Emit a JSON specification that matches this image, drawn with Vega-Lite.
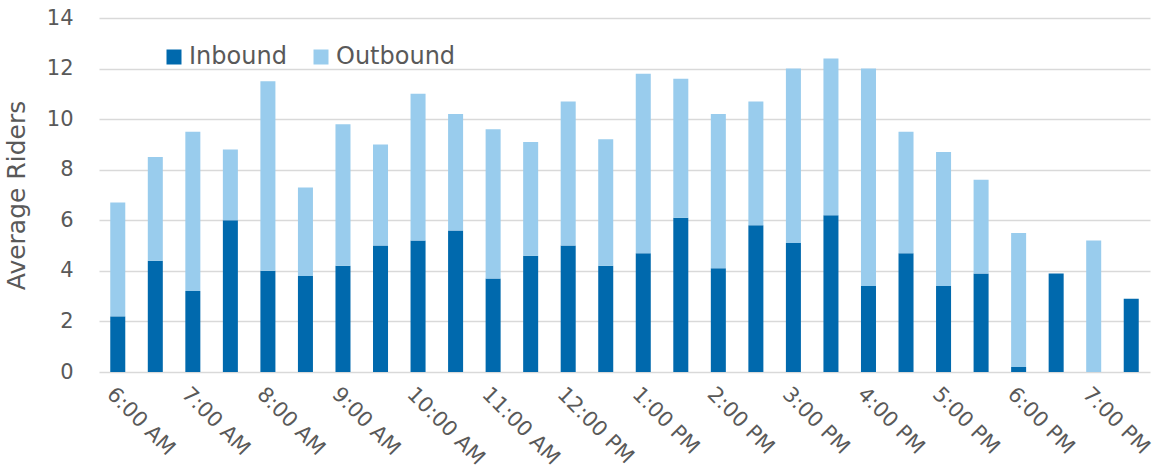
{
  "$schema": "https://vega.github.io/schema/vega-lite/v6.json",
  "width": 1051,
  "height": 354,
  "autosize": {"type": "none"},
  "padding": {"left": 99, "top": 18, "right": 12, "bottom": 100},
  "background": "white",
  "config": {
    "font": "DejaVu Sans",
    "view": {"stroke": null},
    "axis": {"labelColor": "#595959", "titleColor": "#595959", "labelFont": "DejaVu Sans", "titleFont": "DejaVu Sans"}
  },
  "data": {
    "values": [
      {"time": "6:00 AM", "direction": "Inbound", "riders": 2.2},
      {"time": "6:00 AM", "direction": "Outbound", "riders": 4.5},
      {"time": "6:30 AM", "direction": "Inbound", "riders": 4.4},
      {"time": "6:30 AM", "direction": "Outbound", "riders": 4.1},
      {"time": "7:00 AM", "direction": "Inbound", "riders": 3.2},
      {"time": "7:00 AM", "direction": "Outbound", "riders": 6.3},
      {"time": "7:30 AM", "direction": "Inbound", "riders": 6.0},
      {"time": "7:30 AM", "direction": "Outbound", "riders": 2.8},
      {"time": "8:00 AM", "direction": "Inbound", "riders": 4.0},
      {"time": "8:00 AM", "direction": "Outbound", "riders": 7.5},
      {"time": "8:30 AM", "direction": "Inbound", "riders": 3.8},
      {"time": "8:30 AM", "direction": "Outbound", "riders": 3.5},
      {"time": "9:00 AM", "direction": "Inbound", "riders": 4.2},
      {"time": "9:00 AM", "direction": "Outbound", "riders": 5.6},
      {"time": "9:30 AM", "direction": "Inbound", "riders": 5.0},
      {"time": "9:30 AM", "direction": "Outbound", "riders": 4.0},
      {"time": "10:00 AM", "direction": "Inbound", "riders": 5.2},
      {"time": "10:00 AM", "direction": "Outbound", "riders": 5.8},
      {"time": "10:30 AM", "direction": "Inbound", "riders": 5.6},
      {"time": "10:30 AM", "direction": "Outbound", "riders": 4.6},
      {"time": "11:00 AM", "direction": "Inbound", "riders": 3.7},
      {"time": "11:00 AM", "direction": "Outbound", "riders": 5.9},
      {"time": "11:30 AM", "direction": "Inbound", "riders": 4.6},
      {"time": "11:30 AM", "direction": "Outbound", "riders": 4.5},
      {"time": "12:00 PM", "direction": "Inbound", "riders": 5.0},
      {"time": "12:00 PM", "direction": "Outbound", "riders": 5.7},
      {"time": "12:30 PM", "direction": "Inbound", "riders": 4.2},
      {"time": "12:30 PM", "direction": "Outbound", "riders": 5.0},
      {"time": "1:00 PM", "direction": "Inbound", "riders": 4.7},
      {"time": "1:00 PM", "direction": "Outbound", "riders": 7.1},
      {"time": "1:30 PM", "direction": "Inbound", "riders": 6.1},
      {"time": "1:30 PM", "direction": "Outbound", "riders": 5.5},
      {"time": "2:00 PM", "direction": "Inbound", "riders": 4.1},
      {"time": "2:00 PM", "direction": "Outbound", "riders": 6.1},
      {"time": "2:30 PM", "direction": "Inbound", "riders": 5.8},
      {"time": "2:30 PM", "direction": "Outbound", "riders": 4.9},
      {"time": "3:00 PM", "direction": "Inbound", "riders": 5.1},
      {"time": "3:00 PM", "direction": "Outbound", "riders": 6.9},
      {"time": "3:30 PM", "direction": "Inbound", "riders": 6.2},
      {"time": "3:30 PM", "direction": "Outbound", "riders": 6.2},
      {"time": "4:00 PM", "direction": "Inbound", "riders": 3.4},
      {"time": "4:00 PM", "direction": "Outbound", "riders": 8.6},
      {"time": "4:30 PM", "direction": "Inbound", "riders": 4.7},
      {"time": "4:30 PM", "direction": "Outbound", "riders": 4.8},
      {"time": "5:00 PM", "direction": "Inbound", "riders": 3.4},
      {"time": "5:00 PM", "direction": "Outbound", "riders": 5.3},
      {"time": "5:30 PM", "direction": "Inbound", "riders": 3.9},
      {"time": "5:30 PM", "direction": "Outbound", "riders": 3.7},
      {"time": "6:00 PM", "direction": "Inbound", "riders": 0.2},
      {"time": "6:00 PM", "direction": "Outbound", "riders": 5.3},
      {"time": "6:30 PM", "direction": "Inbound", "riders": 3.9},
      {"time": "6:30 PM", "direction": "Outbound", "riders": 0},
      {"time": "7:00 PM", "direction": "Inbound", "riders": 0},
      {"time": "7:00 PM", "direction": "Outbound", "riders": 5.2},
      {"time": "7:30 PM", "direction": "Inbound", "riders": 2.9},
      {"time": "7:30 PM", "direction": "Outbound", "riders": 0}
    ]
  },
  "mark": {"type": "bar"},
  "encoding": {
    "x": {
      "field": "time",
      "type": "ordinal",
      "sort": null,
      "scale": {"paddingInner": 0.6, "paddingOuter": 0.3},
      "axis": {
        "title": null,
        "values": ["6:00 AM", "7:00 AM", "8:00 AM", "9:00 AM", "10:00 AM", "11:00 AM", "12:00 PM", "1:00 PM", "2:00 PM", "3:00 PM", "4:00 PM", "5:00 PM", "6:00 PM", "7:00 PM"],
        "labelAngle": 45,
        "labelAlign": "left",
        "labelBaseline": "top",
        "labelFontSize": 21,
        "labelPadding": 11,
        "ticks": false,
        "domain": false
      }
    },
    "y": {
      "field": "riders",
      "type": "quantitative",
      "stack": "zero",
      "scale": {"domain": [0, 14], "nice": false},
      "axis": {
        "title": "Average Riders",
        "titleFontSize": 25,
        "titleFontWeight": "normal",
        "titlePadding": 17,
        "values": [0, 2, 4, 6, 8, 10, 12, 14],
        "labelFontSize": 21,
        "labelPadding": 26,
        "ticks": false,
        "domain": false,
        "gridColor": "#d9d9d9",
        "gridWidth": 1.3
      }
    },
    "color": {
      "field": "direction",
      "type": "nominal",
      "scale": {"domain": ["Inbound", "Outbound"], "range": ["#0069ad", "#99cced"]},
      "legend": {
        "title": null,
        "orient": "none",
        "direction": "horizontal",
        "legendX": 63,
        "legendY": 27,
        "symbolType": "square",
        "symbolSize": 225,
        "symbolStrokeWidth": 0,
        "labelFontSize": 24,
        "labelColor": "#595959",
        "labelOffset": 3,
        "columnPadding": 22
      }
    },
    "order": {"field": "direction", "sort": "ascending"}
  }
}
